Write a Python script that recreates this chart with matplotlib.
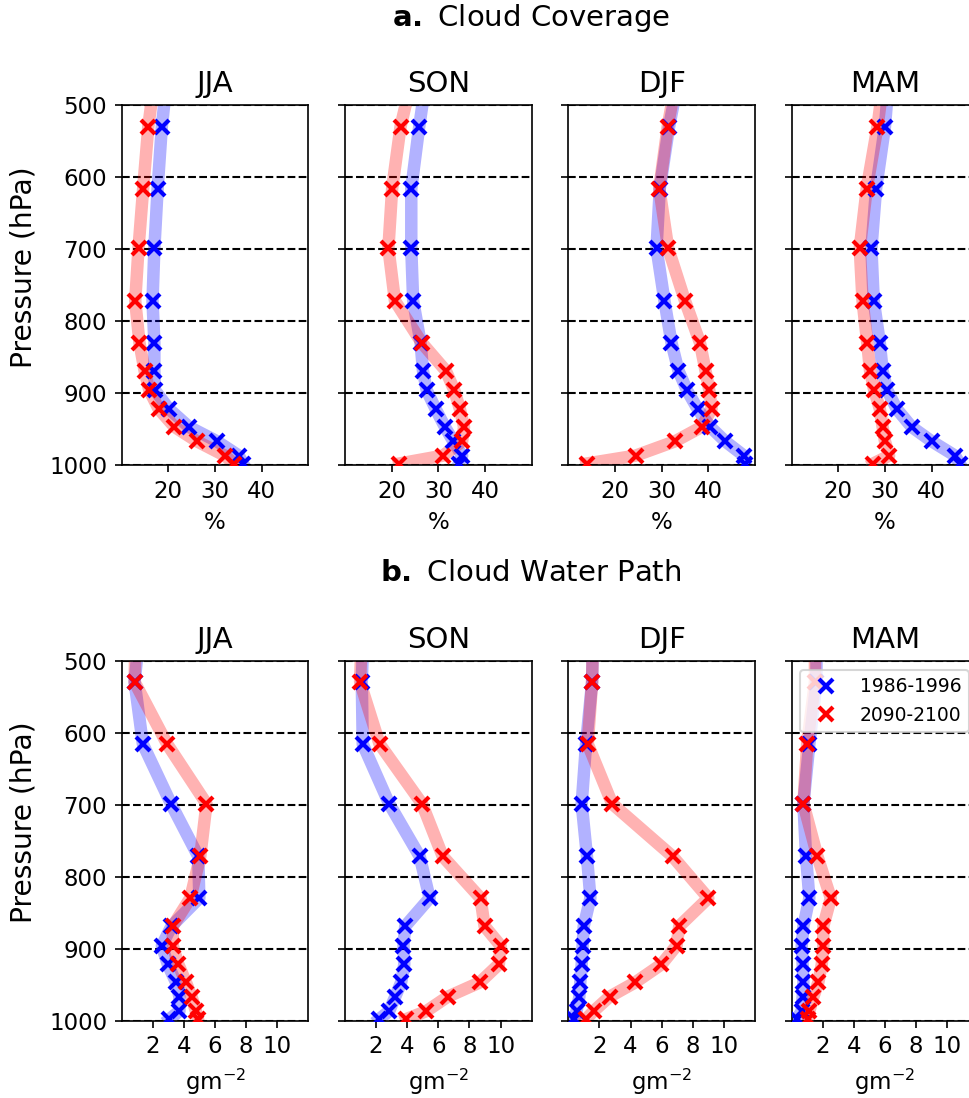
import matplotlib.pyplot as plt

# pressure levels (hPa); first level lies above the plotted range
plev = [450, 530, 616, 699, 772, 830, 869, 896, 922, 947, 967, 987, 998]
seasons = ['JJA', 'SON', 'DJF', 'MAM']

# cloud coverage (%), 1986-1996 (hist) and 2090-2100 (fut)
cc_jja_hist = [19.9, 18.6, 17.7, 17.0, 16.6, 17.0, 17.0, 17.1, 20.1, 24.4, 30.4, 35.1, 36.0]
cc_jja_fut = [17.3, 15.7, 14.6, 13.6, 12.9, 13.8, 14.9, 15.9, 17.9, 21.3, 26.1, 32.1, 34.0]
cc_son_hist = [27.7, 25.9, 24.2, 24.2, 24.6, 26.2, 26.7, 27.5, 29.4, 31.4, 33.2, 35.1, 34.4]
cc_son_fut = [24.8, 21.9, 20.1, 19.3, 20.7, 26.4, 31.6, 33.4, 34.6, 35.5, 35.1, 31.0, 21.6]
cc_djf_hist = [34.0, 31.6, 29.6, 28.9, 30.6, 32.1, 33.6, 35.4, 37.7, 40.4, 43.6, 47.6, 47.9]
cc_djf_fut = [33.5, 31.3, 29.5, 31.4, 35.0, 38.2, 39.4, 40.2, 40.7, 38.6, 32.9, 24.4, 13.9]
cc_mam_hist = [31.0, 30.0, 28.1, 27.1, 27.6, 28.9, 29.5, 30.5, 32.5, 35.7, 40.0, 45.0, 46.0]
cc_mam_fut = [30.0, 28.4, 26.1, 24.6, 25.2, 26.2, 26.8, 27.7, 28.9, 29.5, 30.0, 30.9, 27.5]

# cloud water path (g m-2)
cwp_jja_hist = [1.2, 0.83, 1.36, 3.17, 4.92, 4.99, 3.2, 2.58, 2.96, 3.49, 3.71, 3.71, 3.07]
cwp_jja_fut = [0.9, 0.83, 2.92, 5.45, 5.05, 4.41, 3.28, 3.28, 3.64, 4.13, 4.49, 4.77, 4.9]
cwp_son_hist = [1.2, 1.08, 1.14, 2.84, 4.80, 5.44, 3.87, 3.76, 3.81, 3.61, 3.23, 2.84, 2.2]
cwp_son_fut = [1.1, 0.97, 2.22, 4.95, 6.28, 8.71, 8.97, 10.0, 9.89, 8.67, 6.60, 5.23, 3.94]
cwp_djf_hist = [1.6, 1.53, 1.14, 0.86, 1.20, 1.42, 0.99, 0.92, 0.86, 0.77, 0.71, 0.53, 0.38]
cwp_djf_fut = [1.6, 1.53, 1.25, 2.82, 6.70, 9.0, 7.13, 6.96, 5.99, 4.31, 2.65, 1.63, 1.14]
cwp_mam_hist = [1.6, 1.6, 1.14, 0.76, 0.93, 1.14, 0.76, 0.65, 0.71, 0.76, 0.71, 0.65, 0.33]
cwp_mam_fut = [1.5, 1.5, 1.0, 0.76, 1.66, 2.52, 2.04, 2.04, 1.94, 1.72, 1.4, 1.14, 1.08]

cc = [(cc_jja_hist, cc_jja_fut), (cc_son_hist, cc_son_fut),
      (cc_djf_hist, cc_djf_fut), (cc_mam_hist, cc_mam_fut)]
cwp = [(cwp_jja_hist, cwp_jja_fut), (cwp_son_hist, cwp_son_fut),
       (cwp_djf_hist, cwp_djf_fut), (cwp_mam_hist, cwp_mam_fut)]

W, H, dpi = 969, 1098, 150
fig = plt.figure(figsize=(W / dpi, H / dpi), dpi=dpi)

ax_w = 186.7 / W
ax_h = 360 / H
lefts = [121.7 / W + i * 223.3 / W for i in range(4)]
rows = [(1 - 465 / H, cc, (10, 50), [20, 30, 40], '%'),
        (1 - 1020.5 / H, cwp, (0, 12), [2, 4, 6, 8, 10], r'gm$^{-2}$')]

for r, (bottom, data, xlim, xticks, xlab) in enumerate(rows):
    for i, s in enumerate(seasons):
        ax = fig.add_axes([lefts[i], bottom, ax_w, ax_h])
        hist, fut = data[i]
        for p in [500, 600, 700, 800, 900, 1000]:
            ax.axhline(p, color='k', ls='--', lw=1, zorder=1)
        ax.plot(hist, plev, color='blue', lw=6, alpha=0.3, zorder=2)
        ax.plot(hist, plev, 'x', color='blue', ms=7, mew=2, zorder=3,
                label='1986-1996')
        ax.plot(fut, plev, color='red', lw=6, alpha=0.3, zorder=2)
        ax.plot(fut, plev, 'x', color='red', ms=7, mew=2, zorder=3,
                label='2090-2100')
        ax.set_ylim(1000, 500)
        ax.set_yticks([500, 600, 700, 800, 900, 1000])
        ax.set_xlim(*xlim)
        ax.set_xticks(xticks)
        ax.tick_params(labelsize=11)
        ax.set_xlabel(xlab, fontsize=11)
        ax.set_title(s, fontsize=14, pad=6)
        if i == 0:
            ax.set_ylabel('Pressure (hPa)', fontsize=13.5)
            ax.yaxis.set_label_coords(-0.45, 0.55)
        else:
            ax.set_yticklabels([])
        if r == 1 and i == 3:
            ax.legend(loc='upper right', fontsize=9)

fig.text(531 / W, 1 - 18 / H, r'$\bf{a.}$ Cloud Coverage', ha='center', va='center', fontsize=14)
fig.text(531 / W, 1 - 573 / H, r'$\bf{b.}$ Cloud Water Path', ha='center', va='center', fontsize=14)

fig.savefig('out.png', dpi=dpi)
